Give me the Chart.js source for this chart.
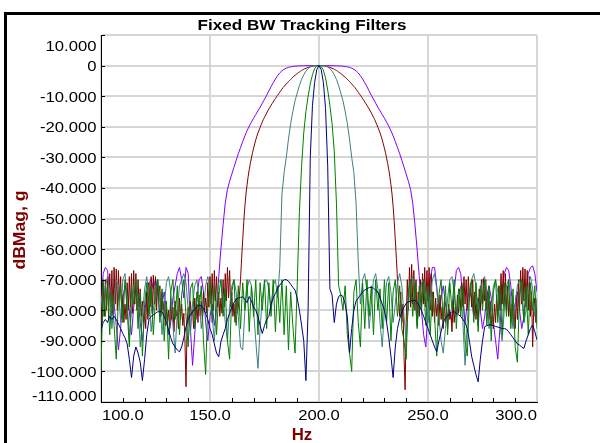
<!DOCTYPE html>
<html><head><meta charset="utf-8">
<script src="https://cdn.jsdelivr.net/npm/chart.js@4.4.1/dist/chart.umd.min.js"></script>
<style>html,body{margin:0;padding:0;background:#fff;}canvas{display:block;}</style>
</head><body>
<canvas id="c" width="600" height="443"></canvas>
<script>
const chartTitle = "Fixed BW Tracking Filters";
const xAxisTitle = "Hz";
const yAxisTitle = "dBMag, g";
const freqStart = 100, freqEnd = 300;
const freqStep = 1;          // sampling of most traces
const darkRedFreqStep = 0.5; // the dark red trace is sampled more densely
const xTickValues = [100, 150, 200, 250, 300];
const xTickLabels = ["100.0", "150.0", "200.0", "250.0", "300.0"];
const xMinorTicks = [110, 120, 130, 140, 160, 170, 180, 190, 210, 220, 230, 240, 260, 270, 280, 290];
const yTickValues = [10, 0, -10, -20, -30, -40, -50, -60, -70, -80, -90, -100, -110];
const yTickLabels = ["10.000", "0", "-10.000", "-20.000", "-30.000", "-40.000", "-50.000", "-60.000", "-70.000", "-80.000", "-90.000", "-100.000", "-110.000"];

const seriesNames = ["BW 4 Hz", "BW 8 Hz", "BW 15 Hz", "BW 30 Hz", "BW 45 Hz"];

// dB, one value per Hz from 100 to 300
const purpleDb = [
-80,-68,-66,-67,-75,-82,-78,-85,-93,-86,
-76,-72,-74,-80,-88,-79,-73,-76,-84,-90,
-82,-74,-71,-70,-73,-70,-74,-82,-78,-74,
-80,-88,-84,-76,-72,-68,-66,-70,-76,-66,
-68,-86,-98,-88,-76,-70,-69,-74,-84,-90,
-82,-78,-85,-80,-69,-60,-52,-45,-40.5,-37.8,
-35.5,-33.2,-31,-28.8,-26.8,-24.8,-23,-21.3,-19.8,-18.5,
-17.2,-16,-14.8,-13.6,-12.3,-11,-9.7,-8.3,-6.9,-5.6,
-4.4,-3.3,-2.4,-1.7,-1.2,-0.85,-0.6,-0.42,-0.3,-0.2,
-0.14,-0.1,-0.07,-0.05,-0.03,-0.02,-0.01,-0.01,0,0,
0,0,0,-0.01,-0.01,-0.02,-0.03,-0.05,-0.07,-0.1,
-0.14,-0.2,-0.3,-0.42,-0.6,-0.85,-1.2,-1.7,-2.4,-3.3,
-4.4,-5.6,-6.9,-8.3,-9.7,-11,-12.3,-13.6,-14.8,-16,
-17.2,-18.5,-19.8,-21.3,-23,-24.8,-26.8,-28.8,-31,-33.2,
-35.5,-37.8,-40.5,-45,-52,-60,-69,-80,-88,-92,
-80,-70,-66,-66,-72,-80,-76,-72,-78,-82,
-80,-84,-74,-67,-66,-68,-76,-84,-78,-73,
-76,-82,-79,-76,-80,-86,-82,-75,-72,-76,
-84,-90,-96,-86,-74,-68,-66,-67,-72,-80,
-78,-74,-80,-86,-82,-74,-68,-66,-65.5,-68,
-74];

// dB, one value per 0.5 Hz from 100 to 300
const darkRedDb = [
-74,-84,-71,-82,-70,-80,-69,-83,-68,-79,
-67,-81,-66,-78,-66.5,-80,-67,-77,-69,-82,
-75,-84,-78,-83,-71,-80,-69,-79,-68,-81,
-67,-78,-68,-80,-70,-79,-73,-82,-77,-84,
-80,-86,-74,-83,-71,-79,-69,-81,-68.5,-78,
-69,-80,-70,-77,-72,-82,-74,-80,-77,-85,
-78,-84,-80,-86,-76,-83,-79,-87,-77,-82,
-80,-86,-76,-83,-78,-85,-81,-90,-105,-84,
-79,-85,-77,-82,-80,-86,-76,-83,-78,-84,
-75,-82,-77,-83,-74,-80,-76,-81,-71,-79,
-69,-78,-68,-80,-67,-77,-69,-79,-74,-82,
-76,-81,-70,-79,-68,-77,-66,-76,-67,-79,
-74,-82,-78,-84,-76,-81,-79,-75,
-70,-63,-57,-51,-46,-42,-39,-36.3,-34,-32,
-30.2,-28.5,-27,-25.6,-24.3,-23.1,-22,-21.1,-20.2,-19.3,
-18.4,-17.6,-16.9,-16.2,-15.5,-14.8,-14.2,-13.6,-13,-12.4,
-11.9,-11.3,-10.8,-10.2,-9.7,-9.2,-8.7,-8.2,-7.7,-7.2,
-6.8,-6.4,-6,-5.6,-5.2,-4.85,-4.5,-4.15,-3.8,-3.5,
-3.2,-2.9,-2.6,-2.35,-2.1,-1.85,-1.6,-1.4,-1.2,-1.05,
-0.9,-0.75,-0.6,-0.5,-0.4,-0.3,-0.2,-0.15,-0.1,-0.06,
-0.02,-0.01,0,-0.01,-0.02,-0.06,-0.1,-0.15,-0.2,-0.3,
-0.4,-0.5,-0.6,-0.75,-0.9,-1.05,-1.2,-1.4,-1.6,-1.85,
-2.1,-2.35,-2.6,-2.9,-3.2,-3.5,-3.8,-4.15,-4.5,-4.85,
-5.2,-5.6,-6,-6.4,-6.8,-7.2,-7.7,-8.2,-8.7,-9.2,
-9.7,-10.2,-10.8,-11.3,-11.9,-12.4,-13,-13.6,-14.2,-14.8,
-15.5,-16.2,-16.9,-17.6,-18.4,-19.3,-20.2,-21.1,-22,-23.1,
-24.3,-25.6,-27,-28.5,-30.2,-32,-34,-36.3,-39,-42,
-46,-51,-57,-63,-70,
-76,-82,-74,-84,-78,-95,-106,-84,-70,-80,
-66,-79,-65,-78,-67,-80,-70,-84,-74,-82,
-70,-80,-68,-78,-66,-79,-67,-77,-66,-80,
-68,-82,-74,-84,-76,-82,-78,-85,-75,-83,
-79,-86,-77,-84,-80,-86,-78,-83,-81,-87,
-77,-84,-79,-82,-75,-81,-73,-80,-71,-79,
-69,-78,-70,-80,-69,-77,-71,-79,-70,-81,
-74,-83,-78,-85,-73,-80,-70,-78,-69.5,-77,
-70,-80,-74,-83,-77,-85,-80,-86,-78,-84,
-75,-82,-72,-80,-68,-78,-67,-79,-68,-80,
-72,-82,-76,-84,-78,-85,-80,-86,-75,-83,
-70,-80,-67,-78,-66,-77,-66.5,-79,-67,-80,
-69,-82,-74,-92,-80,-76,-84,-78];

const tealDb = [
-75,-82,-72,-69,-74,-86,-78,-70,-72,-84,
-70,-68,-76,-90,-80,-72,-70,-78,-92,-82,
-73,-69,-75,-87,-80,-72,-70,-76,-88,-79,
-71,-69,-74,-85,-94,-80,-72,-70,-68,-71,
-80,-88,-78,-72,-70,-76,-86,-80,-72,-69,
-73,-82,-90,-78,-71,-70,-76,-84,-90,-79,
-72,-70,-74,-82,-92,-93,-80,-73,-70,-72,
-80,-90,-99,-86,-76,-71,-70,-73,-80,-72,
-70,-76,-66,-42,-35,-30,-24,-19,-15,-11.5,
-9,-6.5,-4.5,-3,-1.8,-1,-0.4,-0.1,-0.02,0,
0,0,-0.02,-0.1,-0.4,-1,-1.8,-3,-4.5,-6.5,
-9,-11.5,-15,-19,-24,-30,-35,-45,-64,-78,
-70,-68,-74,-86,-78,-70,-68,-73,-84,-92,
-80,-71,-69,-74,-84,-78,-71,-68,-72,-82,
-90,-78,-70,-69,-75,-85,-78,-71,-70,-76,
-84,-77,-70,-68,-73,-82,-90,-94,-86,-76,
-70,-69,-74,-82,-78,-72,-84,-98,-84,-74,
-70,-68,-72,-80,-76,-70,-69,-75,-86,-80,
-72,-70,-74,-85,-90,-80,-72,-70,-76,-86,
-78,-72,-70,-75,-84,-80,-72,-69,-73,-82,
-76];

const greenDb = [
-100,-70,-82,-72,-88,-74,-85,-96,-75,-72,
-84,-70,-80,-92,-73,-78,-70,-86,-74,-95,
-78,-71,-82,-72,-88,-76,-70,-84,-73,-90,
-77,-96,-74,-70,-83,-72,-88,-75,-70,-82,
-92,-73,-71,-86,-74,-80,-72,-90,-101,-78,
-71,-84,-72,-88,-75,-70,-82,-73,-90,-96,
-74,-70,-85,-72,-86,-71,-80,-70,-87,-72,
-82,-70,-88,-71,-80,-70,-86,-71,-82,-70,
-87,-72,-84,-70,-88,-72,-93,-74,-85,-94,
-72,-48,-33,-22,-15,-10,-6,-3,-1,-0.1,
0,-0.3,-1.5,-4,-8,-13,-19,-28,-45,-72,
-75,-80,-72,-88,-94,-100,-74,-70,-84,-92,
-71,-86,-70,-82,-72,-88,-70,-80,-73,-86,
-70,-84,-71,-90,-74,-70,-82,-72,-86,-90,
-96,-74,-70,-82,-71,-86,-72,-80,-70,-85,
-72,-88,-74,-82,-95,-75,-70,-84,-72,-88,
-71,-80,-70,-86,-73,-82,-72,-90,-95,-76,
-70,-84,-71,-87,-72,-80,-70,-85,-72,-90,
-74,-70,-84,-72,-88,-71,-82,-70,-86,-73,
-92,-97,-75,-70,-84,-72,-88,-71,-80,-72,
-86];

const navyDb = [
-86.5,-84,-83,-84,-82,-83,-82,-83,-84.5,-86,
-87.6,-89,-91,-96,-102,-95,-92,-94,-97,-103,
-96,-88,-83,-82,-81.5,-81,-80.5,-80.5,-80.5,-82,
-84,-86.5,-89,-91,-92,-93,-93.6,-92,-89,-85.4,
-83,-81.5,-80.5,-79.5,-78.8,-78.3,-78.5,-79.5,-81,-83,
-86,-88,-91,-94,-95.2,-90.3,-88,-86,-83,-81,
-79,-77.5,-76.5,-76,-75.8,-75.6,-76.5,-77.5,-75.5,-77,
-79,-80,-82,-85,-87.6,-85,-83,-82,-78,-76,
-74.5,-73,-71.8,-70.8,-70,-70,-70.5,-71.5,-72.5,-73.4,
-76,-80,-84.8,-90,-103,-80,-30,-13,-5.5,-1.3,
0,-1.3,-5.5,-14,-33,-73,-75,-84,-78,-75.5,
-75,-75.5,-78,-82,-94,-86,-80,-77,-76,-75,
-74,-73.4,-73,-72.6,-72.5,-72.8,-73.5,-74,-76,-78,
-80,-84,-89,-95,-102,-92,-86,-82.7,-80.5,-79,
-77.7,-77.3,-77,-76.8,-76.7,-77.5,-78.5,-80,-82,-84,
-86,-88,-90,-92,-93.6,-90,-87,-84,-82.5,-82,
-81,-80.5,-80.5,-81,-81.5,-82,-83,-84,-86,-90,
-95,-98,-101,-103.4,-96,-90,-85.4,-85,-84.8,-84.8,
-85,-85.3,-85.5,-85.7,-86,-86,-86.2,-87,-88,-89,
-90,-91,-91.4,-92,-92.5,-90,-88,-86,-84.8,-87,
-89.7];

const seriesColors = ["#000080", "#008000", "#408080", "#800000", "#8000ff"];
const seriesValues = [navyDb, greenDb, tealDb, darkRedDb, purpleDb];
const seriesSteps = [freqStep, freqStep, freqStep, darkRedFreqStep, freqStep];

function freqGrid(step) {
  const out = [];
  const n = Math.round((freqEnd - freqStart) / step);
  for (let k = 0; k <= n; k++) out.push(freqStart + k * step);
  return out;
}

const FONT = '"Liberation Sans", Arial, Helvetica, sans-serif';

function drawText(ctx, s, x, y, font, color, align, sx, rot) {
  ctx.save();
  ctx.translate(x, y);
  if (rot) ctx.rotate(rot);
  ctx.scale(sx, 1);
  ctx.font = font;
  ctx.fillStyle = color;
  ctx.textAlign = align;
  ctx.textBaseline = 'alphabetic';
  ctx.fillText(s, 0, 0);
  ctx.restore();
}

const decorPlugin = {
  id: 'decor',
  beforeDraw(chart) {
    const ctx = chart.ctx;
    ctx.save();
    ctx.fillStyle = '#ffffff';
    ctx.fillRect(0, 0, chart.width, chart.height);
    ctx.fillStyle = '#000000';
    ctx.fillRect(4, 12, 596, 3);
    ctx.fillRect(4, 12, 3, 431);
    ctx.restore();
  },
  afterDraw(chart) {
    const ctx = chart.ctx;
    const xs = chart.scales.x, ys = chart.scales.y;
    const a = chart.chartArea;
    ctx.save();
    ctx.strokeStyle = '#000000';
    ctx.lineWidth = 1;
    ctx.beginPath();
    xMinorTicks.forEach(v => {
      const px = Math.round(xs.getPixelForValue(v)) + 0.5;
      ctx.moveTo(px, a.bottom); ctx.lineTo(px, a.bottom - 4);
    });
    yTickValues.forEach(v => {
      const py = Math.round(ys.getPixelForValue(v)) + 0.5;
      ctx.moveTo(a.left, py); ctx.lineTo(a.left + 4, py);
    });
    ctx.stroke();
    ctx.restore();
    const tf = '15px ' + FONT;
    xTickValues.forEach((v, i) => {
      const px = xs.getPixelForValue(v);
      let align = 'center', x = px;
      if (i === 0) { align = 'left'; x = a.left + 1; }
      if (i === xTickValues.length - 1) { align = 'right'; x = a.right; }
      drawText(ctx, xTickLabels[i], x, 419.5, tf, '#000000', align, 1.11, 0);
    });
    yTickValues.forEach((v, i) => {
      const py = ys.getPixelForValue(v);
      let by = py + 5.5;
      by = Math.max(by, a.top + 15.7);
      by = Math.min(by, a.bottom - 1);
      drawText(ctx, yTickLabels[i], 96.5, by, tf, '#000000', 'right', 1.11, 0);
    });
    drawText(ctx, chartTitle, 302, 30, 'bold 15px ' + FONT, '#000000', 'center', 1.14, 0);
    drawText(ctx, xAxisTitle, 302, 439.5, 'bold 16px ' + FONT, '#800000', 'center', 1.05, 0);
    drawText(ctx, yAxisTitle, 25, 230, 'bold 16px ' + FONT, '#800000', 'center', 1.1, -Math.PI / 2);
  }
};

const datasets = seriesValues.map((vals, i) => {
  const grid = freqGrid(seriesSteps[i]);
  return {
    label: seriesNames[i],
    data: grid.map((f, k) => ({ x: f, y: vals[k] })),
    borderColor: seriesColors[i],
    backgroundColor: seriesColors[i],
    borderWidth: 1,
    pointRadius: 0,
    tension: 0,
    fill: false
  };
});

new Chart(document.getElementById('c'), {
  type: 'line',
  data: { datasets },
  options: {
    responsive: false,
    animation: false,
    events: [],
    layout: { padding: { top: 35, right: 63, left: 0, bottom: 0 } },
    plugins: { legend: { display: false }, title: { display: false }, tooltip: { enabled: false } },
    scales: {
      x: {
        type: 'linear', min: freqStart, max: freqEnd,
        ticks: { stepSize: 50, display: false },
        grid: { color: '#d6d6d6', lineWidth: 2, drawTicks: false },
        border: { color: '#000000', width: 1 },
        afterFit: (s) => { s.height = 41; }
      },
      y: {
        type: 'linear', min: -110, max: 10,
        ticks: { stepSize: 10, display: false },
        grid: { color: '#d6d6d6', lineWidth: 2, drawTicks: false },
        border: { color: '#000000', width: 1 },
        afterFit: (s) => { s.width = 101; }
      }
    }
  },
  plugins: [decorPlugin]
});
</script>
</body></html>
